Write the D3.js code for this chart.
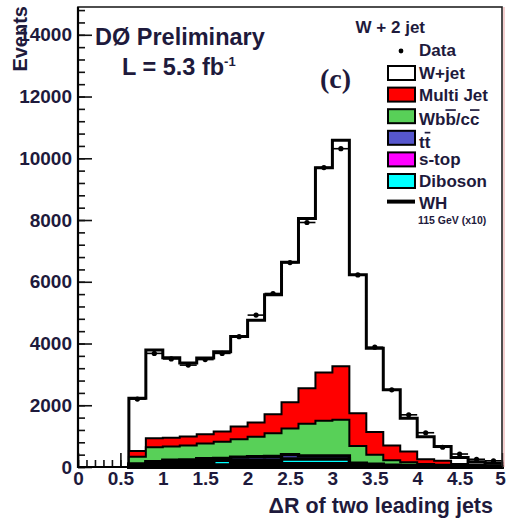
<!DOCTYPE html>
<html><head><meta charset="utf-8">
<script src="https://cdn.jsdelivr.net/npm/d3@7"></script>
<style>
body{margin:0;background:#fff}
svg{display:block}
text{font-family:"Liberation Sans",Arial,Helvetica,sans-serif;font-weight:bold;fill:#1e1a3c}
</style>
</head><body>
<svg id="c" width="506" height="521"></svg>
<script>
// ---- data (events per 0.2 bin of ΔR, bins starting at binLow) ----
const binLow   = [0.6,0.8,1.0,1.2,1.4,1.6,1.8,2.0,2.2,2.4,2.6,2.8,3.0,3.2,3.4,3.6,3.8,4.0,4.2,4.4,4.6,4.8];
const binWidth = 0.2;
const stop     = [30,55,70,75,90,70,105,105,110,110,110,110,110,40,30,20,15,12,10,6,6,3];
const diboson  = [40,60,75,75,90,150,105,105,110,150,150,150,150,50,35,25,20,15,12,8,8,4];
const ttbar    = [30,55,75,80,90,60,110,120,120,140,100,100,100,30,25,15,15,13,8,6,6,3];
const wbb      = [230,470,440,470,490,540,580,650,750,850,1040,1140,1170,560,310,160,100,60,40,30,20,20];
const multijet = [190,290,290,290,300,330,410,460,620,850,1150,1560,1730,1060,730,480,350,150,130,50,40,30];
const wjets    = [1710,2860,2590,2380,2470,2580,2920,3310,3870,4530,5500,6630,7320,4490,2720,1800,1080,730,460,210,90,60];
const dataVals = [2200,3680,3500,3300,3480,3680,4220,4920,5620,6620,7920,9700,10310,6220,3880,2500,1690,1110,640,420,250,200];
const whx10    = [15,25,30,30,35,40,45,50,55,60,60,55,50,20,12,8,6,4,3,2,1,1];

const yTickValues = [0,2000,4000,6000,8000,10000,12000,14000];
const yTickLabels = ["0","2000","4000","6000","8000","10000","12000","14000"];
const xTickValues = [0,0.5,1,1.5,2,2.5,3,3.5,4,4.5,5];
const xTickLabels = ["0","0.5","1","1.5","2","2.5","3","3.5","4","4.5","5"];

const legendItems = [
  {name:"W+jet",   color:"#ffffff"},
  {name:"Multi Jet", color:"#ff0000"},
  {name:"Wbb/cc",  color:"#58d058"},
  {name:"tt",      color:"#5656cc"},
  {name:"s-top",   color:"#ff00ff"},
  {name:"Diboson", color:"#00ffff"}
];

// ---- layout ----
const X0 = 78, X1 = 502, Y0 = 467, Y1 = 7;
const svg = d3.select("#c");
const x = d3.scaleLinear().domain([0,5]).range([X0,X1]);
const y = d3.scaleLinear().domain([0,14900]).range([Y0,Y1]);

// ticks (drawn first, histograms cover them)
const gy = svg.append("g").attr("transform",`translate(${X0},0)`);
gy.call(d3.axisLeft(y).tickValues(d3.range(0,14901,400)).tickSize(-7).tickFormat(""));
gy.call(g=>g.select(".domain").remove());
const gy2 = svg.append("g").attr("transform",`translate(${X0},0)`);
gy2.call(d3.axisLeft(y).tickValues(yTickValues).tickSize(-14).tickPadding(6)
   .tickFormat((d,i)=>yTickLabels[i]));
gy2.call(g=>g.select(".domain").remove());
const gx = svg.append("g").attr("transform",`translate(0,${Y0})`);
gx.call(d3.axisBottom(x).tickValues(d3.range(0,5.001,0.1)).tickSize(-7).tickFormat(""));
gx.call(g=>g.select(".domain").remove());
const gx2 = svg.append("g").attr("transform",`translate(0,${Y0})`);
gx2.call(d3.axisBottom(x).tickValues(xTickValues).tickSize(-14).tickPadding(5)
   .tickFormat((d,i)=>xTickLabels[i]));
gx2.call(g=>g.select(".domain").remove());
gx2.selectAll(".tick text").filter(d=>d===5).attr("dx",-2);
svg.selectAll(".tick line").attr("stroke","#111").attr("stroke-width",1.6);
svg.selectAll(".tick text").attr("font-size",19).attr("font-family",null).attr("fill",null);

// ---- stacked histograms ----
const cum = [];
let run = binLow.map(()=>0);
[stop, diboson, ttbar, wbb, multijet, wjets].forEach(s=>{
  run = run.map((v,i)=>v+s[i]);
  cum.push(run.slice());
});
const line = d3.line().x(d=>x(d[0])).y(d=>y(d[1]));
function stepPts(vals, closed){
  const pts = [];
  if (closed) pts.push([binLow[0],0]);
  vals.forEach((v,i)=>{ pts.push([binLow[i],v]); pts.push([binLow[i]+binWidth,v]); });
  if (closed) pts.push([binLow[binLow.length-1]+binWidth,0]);
  return pts;
}
const styles = [
  {fill:"#ff00ff", sw:3.4},
  {fill:"#00ffff", sw:3.4},
  {fill:"#5656cc", sw:3.4},
  {fill:"#58d058", sw:2},
  {fill:"#ff0000", sw:2},
  {fill:"#ffffff", sw:3}
];
for (let k=cum.length-1;k>=0;k--){
  svg.append("path").attr("d", line(stepPts(cum[k],true))+"Z")
    .attr("fill",styles[k].fill).attr("stroke","#000")
    .attr("stroke-width",styles[k].sw).attr("stroke-linejoin","miter");
}
// WH x10 line
svg.append("path").attr("d", line(stepPts(whx10,true)))
  .attr("fill","none").attr("stroke","#000").attr("stroke-width",3);

// ---- data points ----
const gd = svg.append("g");
dataVals.forEach((v,i)=>{
  const xc = x(binLow[i]+binWidth/2), e = Math.sqrt(v);
  gd.append("line").attr("x1",x(binLow[i])).attr("x2",x(binLow[i]+binWidth))
    .attr("y1",y(v)).attr("y2",y(v)).attr("stroke","#000").attr("stroke-width",1.6);
  gd.append("line").attr("x1",xc).attr("x2",xc).attr("y1",y(v-e)-1.5).attr("y2",y(v+e)+1.5)
    .attr("stroke","#000").attr("stroke-width",1.6);
  gd.append("circle").attr("cx",xc).attr("cy",y(v)).attr("r",2.6).attr("fill","#000");
});

// ---- frame ----
svg.append("rect").attr("x",X0).attr("y",Y1).attr("width",X1-X0).attr("height",Y0-Y1)
  .attr("fill","none").attr("stroke","#222").attr("stroke-width",1.6);
svg.append("line").attr("x1",X0).attr("x2",X0).attr("y1",Y1).attr("y2",Y0+1)
  .attr("stroke","#000").attr("stroke-width",2.2);
svg.append("line").attr("x1",X0).attr("x2",X1).attr("y1",Y0).attr("y2",Y0)
  .attr("stroke","#000").attr("stroke-width",2.2);
svg.append("line").attr("x1",X1+2).attr("x2",X1+2).attr("y1",Y1).attr("y2",Y0)
  .attr("stroke","#e8a0a0").attr("stroke-width",1);

// ---- titles ----
svg.append("text").attr("transform","translate(27,6) rotate(-90)")
  .attr("text-anchor","end").attr("font-size",20).text("Events");
svg.append("text").attr("x",493).attr("y",513).attr("text-anchor","end")
  .attr("font-size",21.5).text("\u0394R of two leading jets");
svg.append("text").attr("x",95).attr("y",45).attr("font-size",23.5).text("D\u00d8 Preliminary");
const lt = svg.append("text").attr("x",122).attr("y",75).attr("font-size",23.5);
lt.append("tspan").text("L = 5.3 fb");
lt.append("tspan").attr("dy",-9).attr("font-size",13).text("-1");
svg.append("text").attr("x",320).attr("y",88).attr("font-size",28)
  .style("font-family","'Liberation Serif','Times New Roman',serif").text("(c)");

// ---- legend ----
svg.append("text").attr("x",425).attr("y",33).attr("text-anchor","end")
  .attr("font-size",17).text("W + 2 jet");
svg.append("circle").attr("cx",401).attr("cy",51).attr("r",2.4).attr("fill","#000");
svg.append("text").attr("x",419).attr("y",56).attr("font-size",17).text("Data");
const lg = svg.append("g");
legendItems.forEach((it,i)=>{
  const top = 66 + i*21.6;
  lg.append("rect").attr("x",388).attr("y",top).attr("width",27).attr("height",14)
    .attr("fill",it.color).attr("stroke","#000").attr("stroke-width",2);
  const t = lg.append("text").attr("x",419).attr("y",top+13).attr("font-size",17);
  if (it.name==="Wbb/cc"){
    t.attr("y",top+16);
    t.append("tspan").text("Wb");
    t.append("tspan").attr("text-decoration","overline").text("b");
    t.append("tspan").text("/c");
    t.append("tspan").attr("text-decoration","overline").text("c");
  } else if (it.name==="tt"){
    t.attr("y",top+17);
    t.append("tspan").text("t");
    t.append("tspan").attr("text-decoration","overline").text("t");
  } else t.text(it.name);
});
const whTop = 66 + 6*21.6;
lg.append("line").attr("x1",387).attr("x2",415).attr("y1",whTop+6).attr("y2",whTop+6)
  .attr("stroke","#000").attr("stroke-width",4);
lg.append("text").attr("x",419).attr("y",whTop+13).attr("font-size",17).text("WH");
lg.append("text").attr("x",418).attr("y",whTop+28).attr("font-size",10.5)
  .attr("font-weight","normal").text("115 GeV (x10)");
</script>
</body></html>
